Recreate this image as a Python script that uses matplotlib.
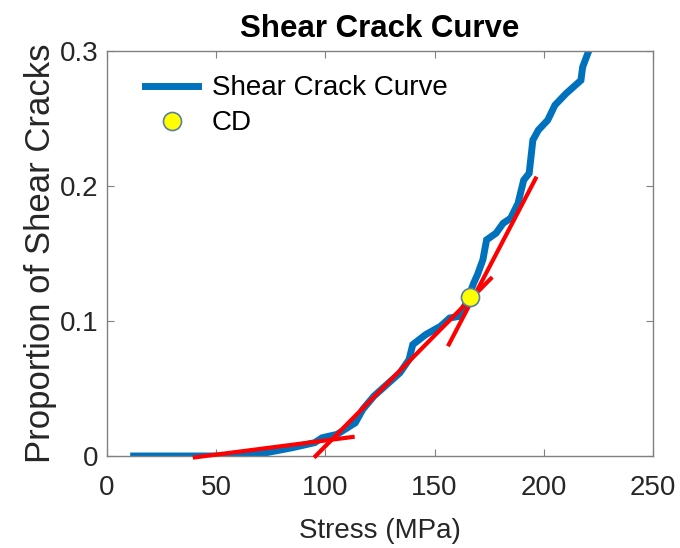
import matplotlib
matplotlib.use('Agg')
import matplotlib.pyplot as plt

# 剪切裂纹曲线
stress = [12.2, 52.8, 73.1, 85.0, 95.1, 98.5, 105.3, 113.7, 117.1, 122.2, 129.0, 134.1,
          138.3, 140.0, 145.9, 152.7, 156.9, 161.1, 164.5, 167.9, 169.6, 172.1, 173.8,
          178.1, 181.4, 184.8, 188.2, 190.8, 193.3, 195.0, 197.5, 201.8, 205.1, 210.2,
          217.0, 217.8, 220.4]
proportion = [0.0, 0.0, 0.0025, 0.0062, 0.0099, 0.0135, 0.016, 0.0246, 0.0345, 0.0443,
              0.0542, 0.0616, 0.0714, 0.0825, 0.0899, 0.0961, 0.1022, 0.1034, 0.1133,
              0.1281, 0.1342, 0.1453, 0.1601, 0.165, 0.1724, 0.1761, 0.1872, 0.2044,
              0.2094, 0.234, 0.2414, 0.2488, 0.2599, 0.2685, 0.2783, 0.2882, 0.2993]

# 三条拟合直线 (起点, 终点)
fit1_x = [39.3, 113.4]
fit1_y = [-0.0012, 0.0143]
fit2_x = [94.8, 176.4]
fit2_y = [-0.0012, 0.1325]
fit3_x = [156.1, 196.7]
fit3_y = [0.0813, 0.2069]

# CD 点
cd_x = [166.2]
cd_y = [0.1177]

x_ticks = [0, 50, 100, 150, 200, 250]
y_ticks = [0, 0.1, 0.2, 0.3]


def run():
    plt.rcParams['font.family'] = ['Liberation Sans', 'DejaVu Sans']
    fig = plt.figure(figsize=(6.8, 5.48), dpi=100)
    ax = fig.add_axes([107 / 680, 1 - 456 / 548, 546 / 680, 405 / 548])

    ax.plot(stress, proportion, color='#0072BD', lw=5, label='Shear Crack Curve',
            solid_joinstyle='miter', zorder=2)
    for fx, fy in [(fit1_x, fit1_y), (fit2_x, fit2_y), (fit3_x, fit3_y)]:
        ax.plot(fx, fy, color='#FF0000', lw=3, solid_capstyle='butt', zorder=3,
                clip_on=False)
    ax.plot(cd_x, cd_y, 'o', ms=13, mfc='#FFFF00', mec='#5b7f9e', mew=1.2,
            label='CD', zorder=4, linestyle='none')

    ax.set_xlim(0, 250)
    ax.set_ylim(0, 0.3)
    ax.set_xticks(x_ticks)
    ax.set_yticks(y_ticks)
    ax.set_yticklabels(['0', '0.1', '0.2', '0.3'])
    ax.tick_params(direction='in', top=True, right=True, length=5, width=0.8,
                   color='#808080', labelsize=20, labelcolor='#262626')
    ax.tick_params(axis='x', pad=14)
    ax.tick_params(axis='y', pad=6)
    for s in ax.spines.values():
        s.set_color('#808080')
        s.set_linewidth(1.0)

    ax.set_xlabel('Stress (MPa)', fontsize=20, color='#262626', labelpad=12)
    ax.set_ylabel('Proportion of Shear Cracks', fontsize=25, color='#262626', labelpad=2)
    ax.set_title('Shear Crack Curve', fontsize=22.5, fontweight='bold', pad=10)

    ax.legend(loc='upper left', bbox_to_anchor=(0.07, 0.94), frameon=False,
              fontsize=20, handlelength=1.9, handletextpad=0.5, labelspacing=0.33,
              borderpad=0, borderaxespad=0)

    fig.savefig('out.png', dpi=100)


run()
